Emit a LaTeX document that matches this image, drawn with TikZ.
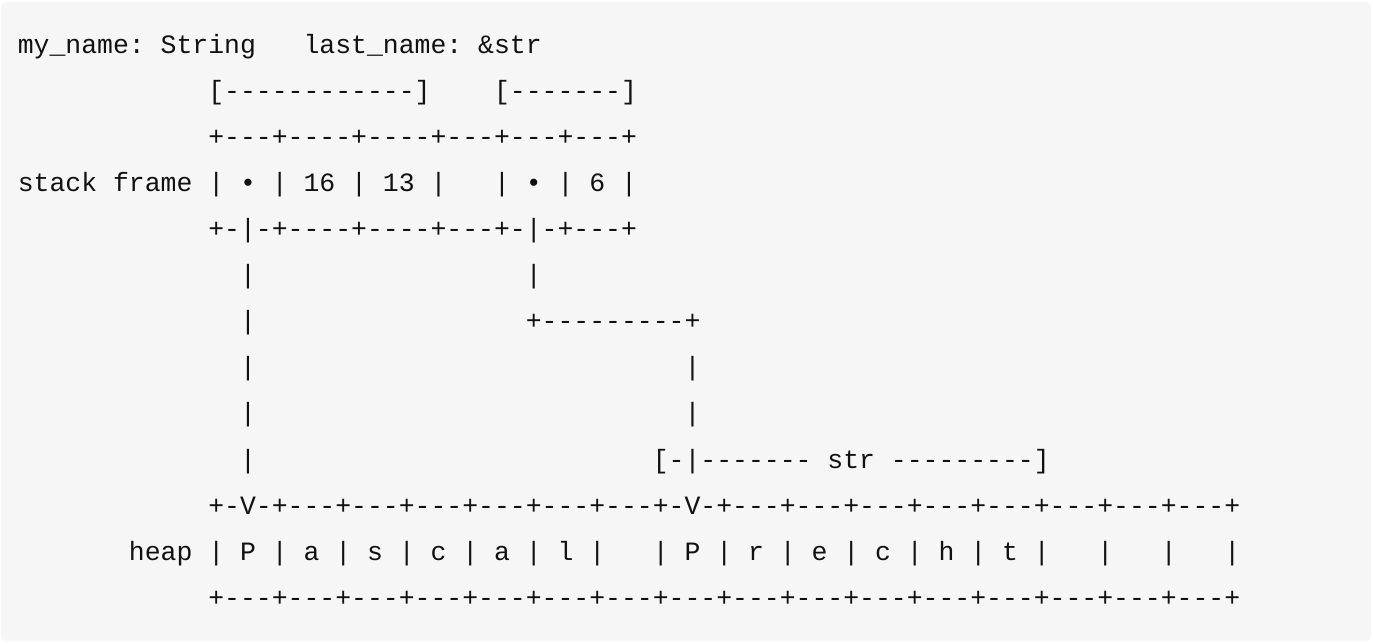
\documentclass[tikz,border=0pt]{standalone}
\usepackage{fontspec}
\setmonofont{Liberation Mono}
\definecolor{bg}{HTML}{F6F6F6}
\definecolor{ink}{HTML}{111111}
\begin{document}
\begin{tikzpicture}[x=1pt,y=-1pt,
  txt/.style={anchor=base west, inner sep=0pt, outer sep=0pt, text=ink,
    font=\ttfamily\fontsize{26.46}{30}\selectfont}]
\useasboundingbox (0,0) rectangle (1373,644);
\fill[white] (0,0) rectangle (1373,644);
\fill[bg, rounded corners=5pt] (1,2) rectangle (1371,641);
\def\cw{15.875}
\def\lx{17.8}
\def\by{53.3}
\def\lh{46.08}
% row 0
\node[txt] (names) at ({\lx+0*\cw},{\by+0*\lh}) {my\_name:~String~~~last\_name:~\&str};
% row 1
\node[txt] (brackets) at ({\lx+12*\cw},{\by+1*\lh}) {[------------]~~~~[-------]};
% row 2
\node[txt] (stacktop) at ({\lx+12*\cw},{\by+2*\lh}) {+---+----+----+---+---+---+};
% row 3
\node[txt] (stackrow) at ({\lx+0*\cw},{\by+3*\lh}) {stack~frame~|~•~|~16~|~13~|~~~|~•~|~6~|};
% row 4
\node[txt] (stackbot) at ({\lx+12*\cw},{\by+4*\lh}) {+-|-+----+----+---+-|-+---+};
% row 5
\node[txt] (pa5) at ({\lx+14*\cw},{\by+5*\lh}) {|};
\node[txt] (pb5) at ({\lx+32*\cw},{\by+5*\lh}) {|};
% row 6
\node[txt] (pa6) at ({\lx+14*\cw},{\by+6*\lh}) {|};
\node[txt] (pb6) at ({\lx+32*\cw},{\by+6*\lh}) {+---------+};
% row 7
\node[txt] (pa7) at ({\lx+14*\cw},{\by+7*\lh}) {|};
\node[txt] (pb7) at ({\lx+42*\cw},{\by+7*\lh}) {|};
% row 8
\node[txt] (pa8) at ({\lx+14*\cw},{\by+8*\lh}) {|};
\node[txt] (pb8) at ({\lx+42*\cw},{\by+8*\lh}) {|};
% row 9
\node[txt] (pa9) at ({\lx+14*\cw},{\by+9*\lh}) {|};
\node[txt] (strspan) at ({\lx+40*\cw},{\by+9*\lh}) {[-|-------~str~---------]};
% row 10
\node[txt] (heaptop) at ({\lx+12*\cw},{\by+10*\lh}) {+-V-+---+---+---+---+---+---+-V-+---+---+---+---+---+---+---+---+};
% row 11
\node[txt] (heaprow) at ({\lx+7*\cw},{\by+11*\lh}) {heap~|~P~|~a~|~s~|~c~|~a~|~l~|~~~|~P~|~r~|~e~|~c~|~h~|~t~|~~~|~~~|~~~|};
% row 12
\node[txt] (heapbot) at ({\lx+12*\cw},{\by+12*\lh}) {+---+---+---+---+---+---+---+---+---+---+---+---+---+---+---+---+};
\end{tikzpicture}
\end{document}
